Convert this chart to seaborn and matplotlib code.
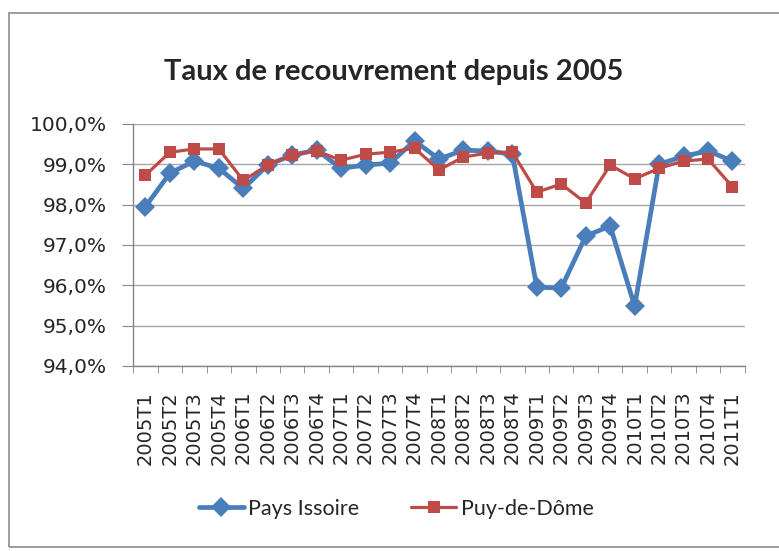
import pandas as pd
import numpy as np
import matplotlib.pyplot as plt
import matplotlib.ticker as mticker
from matplotlib.patches import Rectangle
import seaborn as sns

# Data (recovery rate, %)
quarters = ['2005T1', '2005T2', '2005T3', '2005T4', '2006T1', '2006T2', '2006T3', '2006T4',
            '2007T1', '2007T2', '2007T3', '2007T4', '2008T1', '2008T2', '2008T3', '2008T4',
            '2009T1', '2009T2', '2009T3', '2009T4', '2010T1', '2010T2', '2010T3', '2010T4',
            '2011T1']
pays_issoire = [97.95, 98.78, 99.08, 98.90, 98.40, 98.98, 99.23, 99.35,
                98.90, 98.98, 99.03, 99.58, 99.13, 99.35, 99.33, 99.25,
                95.95, 95.93, 97.22, 97.47, 95.48, 99.00, 99.20, 99.33,
                99.08]
puy_de_dome = [98.73, 99.30, 99.38, 99.38, 98.60, 98.98, 99.23, 99.33,
               99.10, 99.25, 99.30, 99.40, 98.86, 99.18, 99.28, 99.30,
               98.31, 98.51, 98.04, 98.98, 98.64, 98.90, 99.08, 99.13,
               98.44]

df = pd.DataFrame({'Trimestre': quarters * 2,
                   'Taux': pays_issoire + puy_de_dome,
                   'Zone': ['Pays Issoire'] * len(quarters) + ['Puy-de-Dôme'] * len(quarters)})

sns.set_style('white')
plt.rcParams['font.family'] = ['DejaVu Sans']

fig = plt.figure(figsize=(7.79, 5.51), dpi=100)
ax = fig.add_axes([0.171, 0.336, 0.785, 0.439])

# chart-area border (right edge runs off the picture)
fig.patches.append(Rectangle((0.011, 0.008), 1.05, 0.968, transform=fig.transFigure,
                             fill=False, edgecolor='#8c8c8c', linewidth=1.2))

palette = {'Pays Issoire': '#4A7EBB', 'Puy-de-Dôme': '#BE4B48'}
sns.lineplot(data=df[df.Zone == 'Pays Issoire'], x='Trimestre', y='Taux', color=palette['Pays Issoire'],
             marker='D', markersize=10, markeredgewidth=0, linewidth=3.4, sort=False, ax=ax,
             label='Pays Issoire')
sns.lineplot(data=df[df.Zone == 'Puy-de-Dôme'], x='Trimestre', y='Taux', color=palette['Puy-de-Dôme'],
             marker='s', markersize=8, markeredgewidth=0, linewidth=2.3, sort=False, ax=ax,
             label='Puy-de-Dôme')

ax.set_ylim(94, 100)
ax.set_xlim(-0.5, len(quarters) - 0.5)
ax.yaxis.set_major_locator(mticker.MultipleLocator(1))
ax.yaxis.set_major_formatter(mticker.FuncFormatter(lambda v, p: f"{v:.1f}%".replace('.', ',')))
ax.grid(axis='y', color='#a6a6a6', linewidth=1.0)
ax.set_axisbelow(True)

ax.set_xticks(range(len(quarters)))
ax.set_xticklabels(quarters, rotation=90, fontsize=14)
ax.xaxis.set_minor_locator(mticker.FixedLocator(np.arange(-0.5, len(quarters), 1)))
ax.tick_params(axis='x', which='major', length=0, pad=18)
ax.tick_params(axis='x', which='minor', length=5, color='#868686', direction='out', bottom=True)
ax.tick_params(axis='y', length=8, pad=11, color='#868686', direction='out', left=True, labelsize=14.5)
ax.set_xlabel('')
ax.set_ylabel('')

for side in ['top', 'right']:
    ax.spines[side].set_visible(False)
for side in ['left', 'bottom']:
    ax.spines[side].set_color('#868686')
    ax.spines[side].set_linewidth(1.0)

fig.text(0.506, 0.869, 'Taux de recouvrement depuis 2005', ha='center', va='center',
         fontsize=21, fontweight='bold', family=['Lato', 'DejaVu Sans'])

ax.legend(loc='center', bbox_to_anchor=(0.43, -0.59), ncol=2, frameon=False,
          prop={'family': ['Lato', 'DejaVu Sans'], 'size': 15.5},
          handlelength=2.1, columnspacing=2.4, handletextpad=0.2)

plt.savefig('out.png', dpi=100)
